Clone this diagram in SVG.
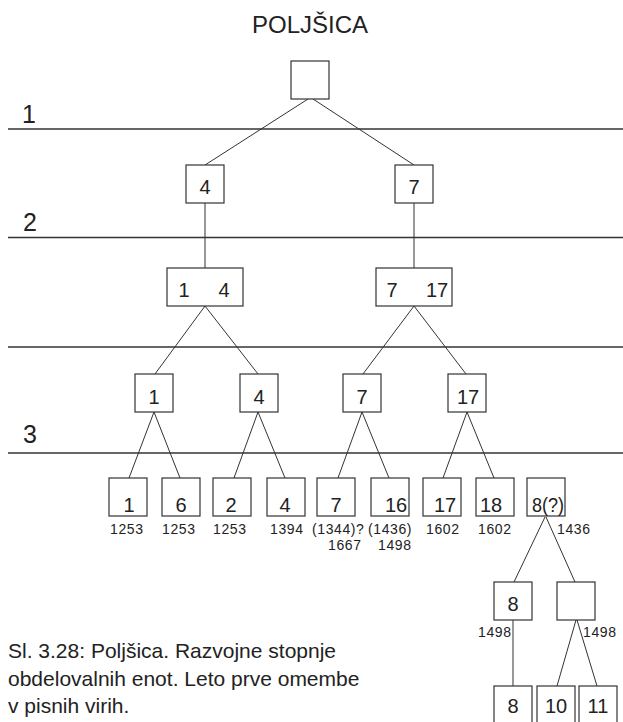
<svg xmlns="http://www.w3.org/2000/svg" width="623" height="722" viewBox="0 0 623 722">
<style>
.bg{fill:#fff}
.box{fill:#fff;stroke:#333;stroke-width:1.2}
.lvl{stroke:#333;stroke-width:1.3}
.con line{stroke:#333;stroke-width:1}
.t{font-family:"Liberation Sans",Arial,sans-serif;fill:#222}
.n{font-size:20px;text-anchor:middle}
.y{font-size:14px;letter-spacing:0.6px}
.big{font-size:25px}
.cap{font-size:21px}
</style>
<rect class="bg" x="0" y="0" width="623" height="722"/>
<text class="t" x="310" y="33" font-size="24" text-anchor="middle">POLJŠICA</text>
<g id="levels">
<line class="lvl" x1="8" y1="129" x2="623" y2="129"/>
<line class="lvl" x1="8" y1="237.5" x2="623" y2="237.5"/>
<line class="lvl" x1="8" y1="347" x2="623" y2="347"/>
<line class="lvl" x1="8" y1="453" x2="623" y2="453"/>
<text class="t big" x="22" y="123">1</text>
<text class="t big" x="23" y="231">2</text>
<text class="t big" x="23" y="443">3</text>
</g>
<g class="con" id="connectors">
<line x1="308" y1="99" x2="205" y2="165"/>
<line x1="313" y1="99" x2="414" y2="165"/>
<line x1="205" y1="203" x2="205" y2="268"/>
<line x1="414" y1="203" x2="414" y2="268"/>
<line x1="205" y1="306" x2="155" y2="374"/>
<line x1="205" y1="306" x2="258" y2="374"/>
<line x1="414" y1="306" x2="363" y2="374"/>
<line x1="414" y1="306" x2="466" y2="374"/>
<line x1="154" y1="412" x2="129" y2="478"/>
<line x1="154" y1="412" x2="180" y2="478"/>
<line x1="258" y1="412" x2="234" y2="478"/>
<line x1="258" y1="412" x2="285" y2="478"/>
<line x1="362" y1="412" x2="338" y2="478"/>
<line x1="362" y1="412" x2="389" y2="478"/>
<line x1="467" y1="412" x2="443" y2="478"/>
<line x1="467" y1="412" x2="494" y2="478"/>
<line x1="545" y1="517" x2="514" y2="582"/>
<line x1="546" y1="517" x2="575" y2="582"/>
<line x1="513" y1="620" x2="513" y2="686"/>
<line x1="576" y1="620" x2="557" y2="686"/>
<line x1="577" y1="620" x2="597" y2="686"/>
</g>
<g id="n-root"><rect class="box" x="291" y="61" width="38" height="38"/></g>
<g id="n-4a"><rect class="box" x="186" y="165" width="38" height="38"/><text class="t n" x="205" y="194">4</text></g>
<g id="n-7a"><rect class="box" x="395" y="165" width="38" height="38"/><text class="t n" x="414" y="194">7</text></g>
<g id="n-1-4"><rect class="box" x="167" y="268" width="76" height="38"/><text class="t n" x="184" y="297">1</text><text class="t n" x="224" y="297">4</text></g>
<g id="n-7-17"><rect class="box" x="376" y="268" width="76" height="38"/><text class="t n" x="392" y="297">7</text><text class="t n" x="437" y="297">17</text></g>
<g id="n-1b"><rect class="box" x="135" y="374" width="38" height="38"/><text class="t n" x="154" y="404">1</text></g>
<g id="n-4b"><rect class="box" x="240" y="374" width="38" height="38"/><text class="t n" x="259" y="404">4</text></g>
<g id="n-7b"><rect class="box" x="343" y="374" width="38" height="38"/><text class="t n" x="362" y="404">7</text></g>
<g id="n-17b"><rect class="box" x="448" y="374" width="38" height="38"/><text class="t n" x="468" y="404">17</text></g>
<g id="n-1c"><rect class="box" x="109" y="478" width="38" height="38"/><text class="t n" x="129" y="512">1</text><text class="t y" x="110" y="534">1253</text></g>
<g id="n-6c"><rect class="box" x="162" y="478" width="38" height="38"/><text class="t n" x="181" y="512">6</text><text class="t y" x="162" y="534">1253</text></g>
<g id="n-2c"><rect class="box" x="213" y="478" width="38" height="38"/><text class="t n" x="231" y="512">2</text><text class="t y" x="213" y="534">1253</text></g>
<g id="n-4c"><rect class="box" x="267" y="478" width="38" height="38"/><text class="t n" x="285" y="512">4</text><text class="t y" x="270" y="534">1394</text></g>
<g id="n-7c"><rect class="box" x="317" y="478" width="38" height="38"/><text class="t n" x="336" y="512">7</text><text class="t y" x="312" y="534">(1344)?</text><text class="t y" x="328" y="550">1667</text></g>
<g id="n-16c"><rect class="box" x="371" y="478" width="38" height="38"/><text class="t n" x="396" y="512">16</text><text class="t y" x="368" y="534">(1436)</text><text class="t y" x="378" y="550">1498</text></g>
<g id="n-17c"><rect class="box" x="423" y="478" width="38" height="38"/><text class="t n" x="445" y="512">17</text><text class="t y" x="426" y="534">1602</text></g>
<g id="n-18c"><rect class="box" x="476" y="478" width="38" height="38"/><text class="t n" x="491" y="512">18</text><text class="t y" x="478" y="534">1602</text></g>
<g id="n-8q"><rect class="box" x="527" y="478" width="38" height="38"/><text class="t" font-size="20" x="532" y="512" textLength="32" lengthAdjust="spacingAndGlyphs">8(?)</text><text class="t y" x="557" y="534">1436</text></g>
<g id="n-8d"><rect class="box" x="494" y="582" width="38" height="38"/><text class="t n" x="513" y="611">8</text><text class="t y" x="478" y="637">1498</text></g>
<g id="n-empty"><rect class="box" x="557" y="582" width="38" height="38"/><text class="t y" x="583" y="637">1498</text></g>
<g id="n-8e"><rect class="box" x="494" y="686" width="38" height="44"/><text class="t n" x="513" y="713">8</text></g>
<g id="n-10e"><rect class="box" x="537" y="686" width="38" height="44"/><text class="t n" x="556" y="713">10</text></g>
<g id="n-11e"><rect class="box" x="579" y="686" width="38" height="44"/><text class="t n" x="598" y="713">11</text></g>
<g id="caption">
<text class="t cap" x="8" y="658">Sl. 3.28: Poljšica. Razvojne stopnje</text>
<text class="t cap" x="8" y="686">obdelovalnih enot. Leto prve omembe</text>
<text class="t cap" x="8" y="713">v pisnih virih.</text>
</g>
</svg>
